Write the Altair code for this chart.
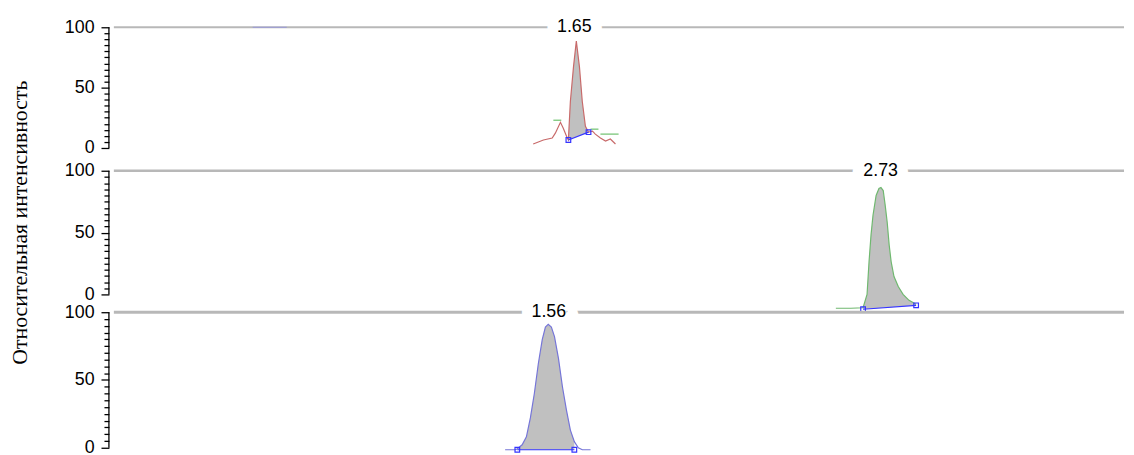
import altair as alt
import pandas as pd

# ---------------- data ----------------
# Panel 1 : red trace, RT 1.65
p1_t = [1.505, 1.541, 1.572, 1.583, 1.601, 1.611, 1.625, 1.629, 1.636, 1.647, 1.657,
        1.668, 1.678, 1.689, 1.700, 1.714, 1.724, 1.742, 1.760, 1.777, 1.795]
p1_v = [3.3, 6.6, 8.2, 12.3, 21.3, 16.4, 8.2, 6.6, 38.5, 67.2, 88.5,
        67.2, 38.5, 18.0, 13.1, 13.9, 11.5, 8.2, 5.7, 7.4, 3.3]
p1_base_t = [1.629, 1.700]
p1_base_v = [6.6, 13.1]
p1_green_seg = ["a", "a", "b", "b", "c", "c"]
p1_green_t = [1.576, 1.604, 1.707, 1.735, 1.742, 1.806]
p1_green_v = [23.0, 23.0, 15.6, 15.6, 11.5, 11.5]
p1_blue_t = [0.516, 0.636]
p1_blue_v = [100, 100]
p1_label = "1.65"
p1_rt = 1.65

# Panel 2 : green trace, RT 2.73
p2_t = [2.572, 2.625, 2.668, 2.682, 2.689, 2.696, 2.703, 2.714, 2.724, 2.731, 2.739,
        2.746, 2.753, 2.760, 2.767, 2.777, 2.792, 2.809, 2.830, 2.855]
p2_v = [-11.2, -11.2, -10.8, 0.0, 26.4, 48.0, 64.0, 80.0, 85.6, 86.4, 84.0,
        72.0, 58.4, 40.0, 26.4, 14.4, 6.4, 0.0, -4.8, -8.0]
p2_base_t = [2.668, 2.855]
p2_base_v = [-12.0, -8.8]
p2_label = "2.73"
p2_rt = 2.73

# Panel 3 : blue trace, RT 1.56
p3_t = [1.406, 1.442, 1.449, 1.466, 1.481, 1.495, 1.509, 1.523, 1.537, 1.548, 1.558,
        1.569, 1.580, 1.594, 1.608, 1.622, 1.636, 1.650, 1.664, 1.678, 1.707]
p3_v = [-1.5, -1.5, -0.7, 2.2, 8.0, 22.0, 40.0, 62.0, 80.0, 89.0, 91.0,
        89.0, 82.0, 66.0, 45.0, 28.0, 13.0, 4.5, 0.0, -1.5, -1.5]
p3_base_t = [1.449, 1.650]
p3_base_v = [-1.5, -1.5]
p3_label = "1.56"
p3_rt = 1.56

y_ticks = list(range(0, 101, 5))
y_title = "Относительная интенсивность"

# ---------------- style ----------------
X_DOMAIN = [0.0265, 3.588]
W = 1021
GRAY = "#b8b8b8"
FILL = "#c0c0c0"
BASE_BLUE = "#3535ff"
FONT = "Liberation Sans"
LABEL_SIZE = 18


def y_axis(title=None):
    kw = dict(values=y_ticks,
              labelExpr="datum.value % 50 === 0 ? datum.label : ''",
              tickSize={"condition": {"test": "datum.value % 50 === 0", "value": 8}, "value": 5},
              domain=False, grid=False, offset=5, tickColor="black", tickWidth=1.3,
              labelFont=FONT, labelFontSize=LABEL_SIZE, labelColor="black", labelPadding=7,
              labelOverlap=False)
    if title:
        kw.update(title=title, titleFont="Liberation Serif", titleFontSize=22,
                  titleFontWeight="normal", titleColor="black", titleX=-78, titleY=62)
    else:
        kw.update(title=None)
    return alt.Axis(**kw)


def panel(t, v, color, base_t, base_v, rt, label, ydom, height, line_w, title=None, extras=()):
    ax = y_axis(title)
    xs = alt.Scale(domain=X_DOMAIN, nice=False, zero=False)
    ys = alt.Scale(domain=ydom, nice=False, zero=False)
    X = lambda f="t": alt.X(f"{f}:Q", scale=xs, axis=None)
    Y = lambda f="v": alt.Y(f"{f}:Q", scale=ys, axis=ax)

    trace = pd.DataFrame({"t": t, "v": v})
    base = pd.DataFrame({"t": base_t, "v": base_v})
    lab = pd.DataFrame({"t": [rt], "v": [100], "label": [label]})

    axis_line = alt.Chart(lab).mark_rule(color="black", strokeWidth=1.3).encode(
        x=alt.value(-5), y=alt.Y(datum=0, scale=ys, axis=ax), y2=alt.datum(100))
    top_line = alt.Chart(lab).mark_rule(color=GRAY, strokeWidth=line_w).encode(
        x=alt.value(0), x2=alt.value(W), y=Y())
    halo = alt.Chart(lab).mark_text(font=FONT, fontSize=LABEL_SIZE, fill="white", stroke="white",
                                    strokeWidth=22, baseline="middle").encode(
        x=X(), y=Y(), text="label:N")
    t0, t1 = base_t
    b0, b1 = base_v
    area = alt.Chart(trace).transform_filter(
        f"datum.t >= {t0} && datum.t <= {t1}"
    ).transform_calculate(
        b=f"{b0} + ({b1} - {b0}) * (datum.t - {t0}) / ({t1} - {t0})"
    ).mark_area(color=FILL, opacity=1).encode(x=X(), y=Y(), y2="b:Q")
    line = alt.Chart(trace).mark_line(color=color, strokeWidth=1.2).encode(x=X(), y=Y())
    bline = alt.Chart(base).mark_line(color=BASE_BLUE, strokeWidth=1.2).encode(x=X(), y=Y())
    bpts = alt.Chart(base).mark_point(shape="square", filled=False, size=22,
                                      color=BASE_BLUE, strokeWidth=1.2, opacity=1).encode(x=X(), y=Y())
    text = alt.Chart(lab).mark_text(font=FONT, fontSize=LABEL_SIZE, color="black",
                                    baseline="middle").encode(x=X(), y=Y(), text="label:N")
    layers = [top_line, halo, axis_line]
    for e in extras:
        layers.append(e(X, Y))
    layers += [area, line, bline, bpts, text]
    return alt.layer(*layers).properties(width=W, height=height)


def p1_green(X, Y):
    df = pd.DataFrame({"t": p1_green_t, "v": p1_green_v, "seg": p1_green_seg})
    return alt.Chart(df).mark_line(color="#6cc06c", strokeWidth=1.2).encode(x=X(), y=Y(), detail="seg:N")


def p1_blue(X, Y):
    df = pd.DataFrame({"t": p1_blue_t, "v": p1_blue_v})
    return alt.Chart(df).mark_line(color="#7070ff", strokeWidth=1.2, opacity=0.45).encode(x=X(), y=Y())


c1 = panel(p1_t, p1_v, "#c86a6a", p1_base_t, p1_base_v, p1_rt, p1_label,
           [-10.66, 113.93], 152, 2, extras=(p1_blue, p1_green))
c2 = panel(p2_t, p2_v, "#6fb86f", p2_base_t, p2_base_v, p2_rt, p2_label,
           [-13.6, 108.0], 152, 2.5, title=y_title)
c3 = panel(p3_t, p3_v, "#7575d8", p3_base_t, p3_base_v, p3_rt, p3_label,
           [-16.1, 100.73], 160, 3)

chart = alt.vconcat(c1, c2, c3, spacing=0, bounds="flush").properties(
    padding={"left": 0, "top": 0, "right": 0, "bottom": 0},
    background="white",
).configure_view(strokeWidth=0, stroke="transparent")

chart.save("out.html", embed_options={"renderer": "svg", "actions": False})
